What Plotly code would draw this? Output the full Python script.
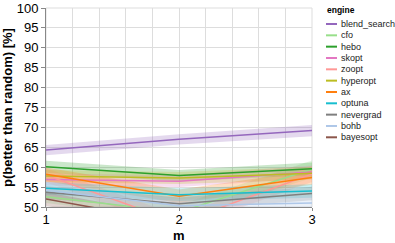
import plotly.graph_objects as go

m_values = [1, 2, 3]
engines = ["blend_search", "cfo", "hebo", "skopt", "zoopt", "hyperopt",
           "ax", "optuna", "nevergrad", "bohb", "bayesopt"]
colors = ["#9467bd", "#98df8a", "#2ca02c", "#e377c2", "#ff9896", "#bcbd22",
          "#ff7f0e", "#17becf", "#7f7f7f", "#aec7e8", "#8c564b"]
means = {
    "blend_search": [64.3, 67.0, 69.2],
    "cfo":          [52.6, 48.7, 59.5],
    "hebo":         [60.1, 57.9, 59.6],
    "skopt":        [56.9, 56.5, 58.8],
    "zoopt":        [58.0, 46.0, 58.3],
    "hyperopt":     [57.8, 57.3, 58.5],
    "ax":           [58.2, 52.7, 57.4],
    "optuna":       [54.7, 53.1, 54.0],
    "nevergrad":    [53.7, 50.8, 53.4],
    "bohb":         [54.2, 50.3, 51.0],
    "bayesopt":     [52.0, 46.0, 47.0],
}
ci = {
    "blend_search": [1.3, 1.3, 1.4],
    "cfo":          [1.6, 1.8, 2.2],
    "hebo":         [1.5, 1.4, 1.6],
    "skopt":        [1.5, 1.5, 1.6],
    "zoopt":        [1.8, 1.8, 2.0],
    "hyperopt":     [1.5, 1.5, 1.6],
    "ax":           [1.7, 1.7, 1.8],
    "optuna":       [1.6, 1.6, 1.7],
    "nevergrad":    [1.6, 1.6, 1.7],
    "bohb":         [1.7, 1.7, 1.8],
    "bayesopt":     [1.7, 1.7, 1.8],
}

def rgba(hexc, a):
    h = hexc.lstrip("#")
    return "rgba(%d,%d,%d,%.2f)" % (int(h[0:2], 16), int(h[2:4], 16), int(h[4:6], 16), a)

W, H = 395, 243
L, R, T, B = 46, 83, 8, 36
PW, PH = W - L - R, H - T - B

def px(x):
    return (x - L) / PW

def py(y):
    return (H - B - y) / PH

fig = go.Figure()
for eng, col in zip(engines, colors):
    up = [v + c for v, c in zip(means[eng], ci[eng])]
    lo = [v - c for v, c in zip(means[eng], ci[eng])]
    fig.add_trace(go.Scatter(
        x=m_values + m_values[::-1], y=up + lo[::-1],
        fill="toself", fillcolor=rgba(col, 0.25), line=dict(width=0),
        mode="lines", showlegend=False, hoverinfo="skip"))
for eng, col in zip(engines, colors):
    fig.add_trace(go.Scatter(
        x=m_values, y=means[eng], mode="lines", name=eng, showlegend=False,
        line=dict(color=col, width=1.5)))

# manual legend
fig.add_annotation(x=px(325), y=py(10), xref="paper", yref="paper",
                   text="<b>engine</b>", showarrow=False, xanchor="left",
                   yanchor="middle", font=dict(size=8.5, color="#000"))
for i, (eng, col) in enumerate(zip(engines, colors)):
    yy = 24 + i * 11.33
    fig.add_shape(type="line", xref="paper", yref="paper",
                  x0=px(326), x1=px(337), y0=py(yy), y1=py(yy),
                  line=dict(color=col, width=2))
    fig.add_annotation(x=px(339), y=py(yy), xref="paper", yref="paper",
                       text=eng, showarrow=False, xanchor="left", yanchor="middle",
                       font=dict(size=9, color="#222"))

# x axis title
fig.add_annotation(x=0.5, y=py(235), xref="paper", yref="paper",
                   text="<b>m</b>", showarrow=False, xanchor="center",
                   yanchor="middle", font=dict(size=13, color="#000"))

fig.update_layout(
    width=W, height=H,
    margin=dict(l=L, r=R, t=T, b=B, autoexpand=False),
    plot_bgcolor="white", paper_bgcolor="white",
    showlegend=False,
    font=dict(family="Liberation Sans, Arial, sans-serif", color="#000"),
    xaxis=dict(
        range=[1, 3], tickvals=[1, 2, 3], ticktext=["1", "2", "3"],
        showgrid=True, gridcolor="#dddddd", gridwidth=1,
        minor=dict(dtick=0.2, showgrid=True, gridcolor="#dddddd", ticks=""),
        showline=True, linecolor="#888888", ticks="outside", ticklen=3,
        tickcolor="#888888", tickfont=dict(size=13), ticklabelstandoff=-3,
        zeroline=False,
    ),
    yaxis=dict(
        range=[50, 100], dtick=5,
        showgrid=True, gridcolor="#dddddd", gridwidth=1,
        showline=True, linecolor="#888888", ticks="outside", ticklen=4,
        tickcolor="#888888", tickfont=dict(size=13),
        title=dict(text="<b>p(better than random) [%]</b>", font=dict(size=13), standoff=4),
        zeroline=False,
    ),
)
fig.add_shape(type="rect", xref="paper", yref="paper", x0=0, y0=0, x1=1, y1=1,
              line=dict(color="#dddddd", width=1), layer="below")
fig.write_html("out.html", config={"displayModeBar": False},
               post_script="document.body.style.margin='0px';document.body.style.padding='0px';")
